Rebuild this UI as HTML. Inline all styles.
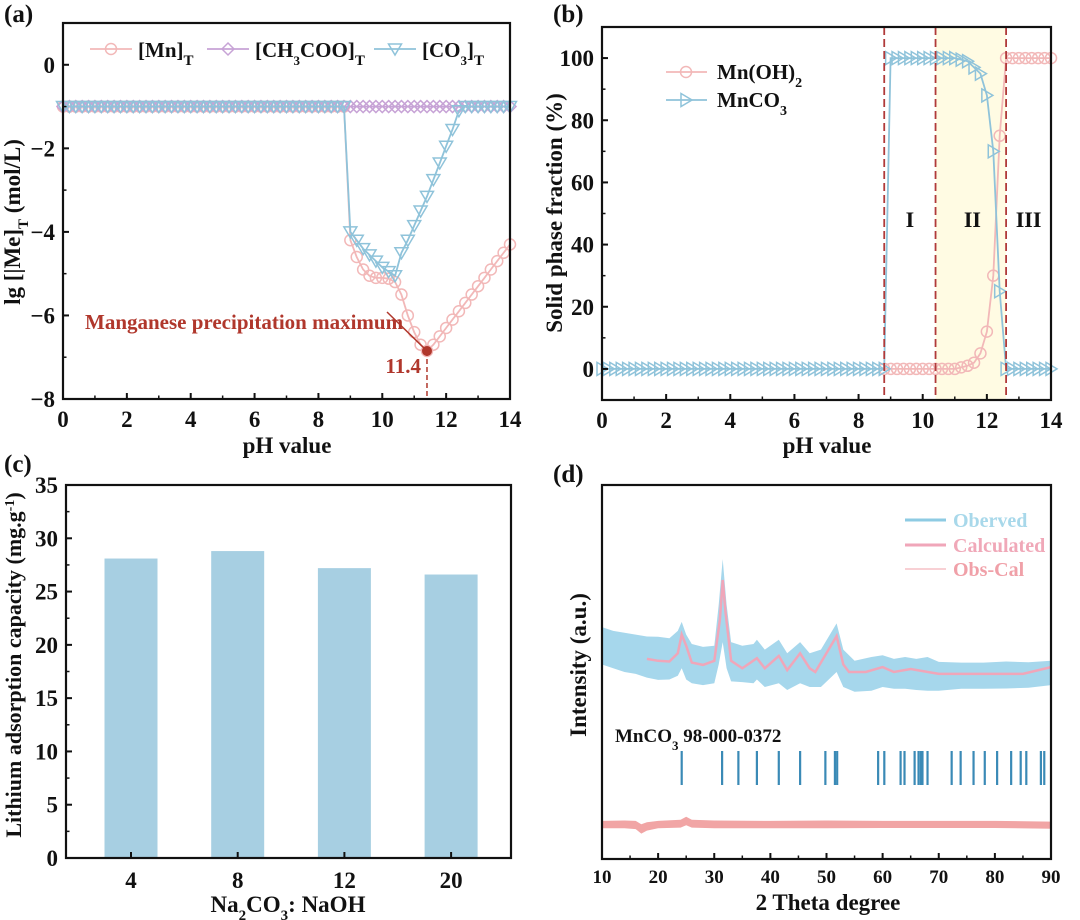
<!DOCTYPE html>
<html><head><meta charset="utf-8"><style>
html,body{margin:0;padding:0;background:#fff;}
svg{display:block;font-family:"Liberation Serif",serif;font-weight:bold;}
</style></head><body>
<svg id="fig" width="1080" height="920" viewBox="0 0 1080 920" xmlns="http://www.w3.org/2000/svg"></svg>
<script>
// ---------- Panel (a) data ----------
const phA = [0,0.2,0.4,0.6,0.8,1,1.2,1.4,1.6,1.8,2,2.2,2.4,2.6,2.8,3,3.2,3.4,3.6,3.8,4,4.2,4.4,4.6,4.8,5,5.2,5.4,5.6,5.8,6,6.2,6.4,6.6,6.8,7,7.2,7.4,7.6,7.8,8,8.2,8.4,8.6,8.8,9,9.2,9.4,9.6,9.8,10,10.2,10.4,10.6,10.8,11,11.2,11.4,11.6,11.8,12,12.2,12.4,12.6,12.8,13,13.2,13.4,13.6,13.8,14];
const mnA = [-1,-1,-1,-1,-1,-1,-1,-1,-1,-1,-1,-1,-1,-1,-1,-1,-1,-1,-1,-1,-1,-1,-1,-1,-1,-1,-1,-1,-1,-1,-1,-1,-1,-1,-1,-1,-1,-1,-1,-1,-1,-1,-1,-1,-1,-4.2,-4.6,-4.9,-5.05,-5.1,-5.1,-5.12,-5.2,-5.5,-6.0,-6.4,-6.7,-6.85,-6.7,-6.5,-6.3,-6.1,-5.9,-5.7,-5.5,-5.3,-5.1,-4.9,-4.7,-4.5,-4.3];
const acA = [-1,-1,-1,-1,-1,-1,-1,-1,-1,-1,-1,-1,-1,-1,-1,-1,-1,-1,-1,-1,-1,-1,-1,-1,-1,-1,-1,-1,-1,-1,-1,-1,-1,-1,-1,-1,-1,-1,-1,-1,-1,-1,-1,-1,-1,-1,-1,-1,-1,-1,-1,-1,-1,-1,-1,-1,-1,-1,-1,-1,-1,-1,-1,-1,-1,-1,-1,-1,-1,-1,-1];
const co3A = [-1,-1,-1,-1,-1,-1,-1,-1,-1,-1,-1,-1,-1,-1,-1,-1,-1,-1,-1,-1,-1,-1,-1,-1,-1,-1,-1,-1,-1,-1,-1,-1,-1,-1,-1,-1,-1,-1,-1,-1,-1,-1,-1,-1,-1,-4.0,-4.2,-4.4,-4.55,-4.7,-4.85,-4.95,-5.05,-4.5,-4.2,-3.85,-3.5,-3.15,-2.75,-2.35,-1.95,-1.55,-1.1,-1,-1,-1,-1,-1,-1,-1,-1];
const aXTicks = [0,2,4,6,8,10,12,14];
const aYTicks = [0,-2,-4,-6,-8];
const aMinPH = [11.4];
const aMinVal = [-6.85];
// ---------- Panel (b) data ----------
const mnOH2B = [0,0,0,0,0,0,0,0,0,0,0,0,0,0,0,0,0,0,0,0,0,0,0,0,0,0,0,0,0,0,0,0,0,0,0,0,0,0,0,0,0,0,0,0,0,0,0,0,0,0,0,0,0,0,0,0,0.5,1,2,5,12,30,75,100,100,100,100,100,100,100,100];
const mnCO3B = [0,0,0,0,0,0,0,0,0,0,0,0,0,0,0,0,0,0,0,0,0,0,0,0,0,0,0,0,0,0,0,0,0,0,0,0,0,0,0,0,0,0,0,0,0,100,100,100,100,100,100,100,100,100,100,100,99.5,99,97,95,88,70,25,0,0,0,0,0,0,0,0];
const bXTicks = [0,2,4,6,8,10,12,14];
const bYTicks = [0,20,40,60,80,100];
const bBounds = [8.8,10.4,12.6];
const bRegions = ["I","II","III"];
const bRegionPos = [9.6,11.55,13.3];
// ---------- Panel (c) data ----------
const cCats = ["4","8","12","20"];
const cVals = [28.1,28.8,27.2,26.6];
const cYTicks = [0,5,10,15,20,25,30,35];
// ---------- Panel (d) data ----------
const dObsX = [10,12,14,16,18,20,22,23.5,24.2,25,26,28,30,30.8,31.5,32.2,33,35,37,37.6,39,41.5,43,45.3,47,49,51.8,53,55,58,60,62,64,66,68,70,74,78,82,86,90];
const dObsHi = [62,61,60.5,60,59.5,59.4,59,61,63.4,60,57.5,56.7,57,68,80.2,68,58,57,57.5,58.6,56,58.6,55,58,55,56,63,56,53,54,54.5,53.5,54,53.5,54,52.7,52.5,52.5,52.8,52.6,53];
const dObsLo = [52,51,50,49.5,48.5,47.9,48,49,51,48,47,46.5,47,52,58,51,47.5,47.3,47,48,46,47,45.2,47,46,46,50,46,44.7,45,46,45.5,45.5,45.2,45,45,45.5,45.5,45.6,45.8,46.5];
const dCalX = [18,20,22,23.5,24.2,25,26,28,30,31,31.5,32,33,35,37.6,39,41.5,43,45.3,47,48,51.8,53,54,57,60,62,65,70,75,80,85,90];
const dCalY = [53.5,53,52.8,55,60,57,52.5,51.9,53,64,74.6,66,53,51,53.7,51,54.3,50.5,55,51,50,59.6,52,50,50,51.3,50,50.8,49.5,49.5,49.5,49.5,51.3];
const dDiffX = [10,14,16,17,18,20,24,25,26,30,40,50,60,70,80,90];
const dDiffHi = [10.2,10.3,10.2,9.3,9.8,10.2,10.5,11.3,10.5,10.3,10.2,10.3,10.2,10.2,10.2,10];
const dDiffLo = [8.2,8.2,8,6.8,7.6,8.2,8.4,9,8.4,8.2,8.2,8.2,8.3,8.3,8.3,8.1];
const dRefPeaks = [24.2,31.4,34.3,37.6,41.5,45.3,49.8,51.5,51.9,59.2,60.3,63.2,63.9,65.7,66.4,66.8,67.1,68.0,72.3,73.9,76.2,78.2,80.4,82.9,84.6,85.6,88.2,88.8];
const dXTicks = [10,20,30,40,50,60,70,80,90];

const NS = "http://www.w3.org/2000/svg";
const svg = document.getElementById("fig");
function mk(tag, attrs, parent){
  const e = document.createElementNS(NS, tag);
  for (const k in attrs) e.setAttribute(k, attrs[k]);
  (parent||svg).appendChild(e);
  return e;
}
function lin(d0,d1,r0,r1){ return v => r0 + (v-d0)/(d1-d0)*(r1-r0); }
function txt(s, x, y, size, anchor, parent, fill){
  const t = mk("text",{x:x,y:y,"font-size":size,"text-anchor":anchor||"middle",fill:fill||"#111"},parent);
  t.textContent = s; return t;
}
function frame(g,x0,y0,x1,y1){
  const r = mk("rect",{x:x0,y:y0,width:x1-x0,height:y1-y0,fill:"none",stroke:"#111","stroke-width":2.2},g);
  
  
}
function polyline(g, xs, ys, sx, sy, stroke, w){
  let d = xs.map((x,i)=>(i?"L":"M")+sx(x).toFixed(1)+","+sy(ys[i]).toFixed(1)).join("");
  return mk("path",{d:d,fill:"none",stroke:stroke,"stroke-width":w||1.5},g);
}
function band(g, xs, hi, lo, sx, sy, fill){
  let d = xs.map((x,i)=>(i?"L":"M")+sx(x).toFixed(1)+","+sy(hi[i]).toFixed(1)).join("");
  for (let i=xs.length-1;i>=0;i--) d += "L"+sx(xs[i]).toFixed(1)+","+sy(lo[i]).toFixed(1);
  return mk("path",{d:d+"Z",fill:fill,stroke:"none"},g);
}
function marker(g,type,x,y,color){
  let e;
  if (type==="circle") e = mk("circle",{cx:x,cy:y,r:5.5,fill:"none",stroke:color,"stroke-width":1.5},g);
  else if (type==="diamond") e = mk("path",{d:`M${x},${y-6}L${x+6},${y}L${x},${y+6}L${x-6},${y}Z`,fill:"none",stroke:color,"stroke-width":1.5},g);
  else if (type==="tridown") e = mk("path",{d:`M${x-6.5},${y-5}L${x+6.5},${y-5}L${x},${y+6}Z`,fill:"none",stroke:color,"stroke-width":1.5},g);
  else e = mk("path",{d:`M${x-5},${y-6.5}L${x+6},${y}L${x-5},${y+6.5}Z`,fill:"none",stroke:color,"stroke-width":1.5},g);
  return e;
}
function xTicks(g, ticks, sx, yb, minorStep, lo, hi, labSize){
  ticks.forEach(v=>{
    mk("line",{x1:sx(v),x2:sx(v),y1:yb,y2:yb-6,stroke:"#111","stroke-width":2},g);
    const t = txt(String(v), sx(v), yb+(labSize?24:28), labSize||23, "middle", g);
    
    
  });
  if (minorStep) for (let v=lo; v<=hi+1e-9; v+=minorStep) mk("line",{x1:sx(v),x2:sx(v),y1:yb,y2:yb-3.5,stroke:"#111","stroke-width":1.5},g);
}
function yTicks(g, ticks, sy, xl, minorStep, lo, hi, fmt){
  ticks.forEach(v=>{
    mk("line",{x1:xl,x2:xl+6,y1:sy(v),y2:sy(v),stroke:"#111","stroke-width":2},g);
    const t = txt(fmt?fmt(v):String(v), xl-8, sy(v)+8, 23, "end", g);
    
    
  });
  if (minorStep) for (let v=lo; v<=hi+1e-9; v+=minorStep) mk("line",{x1:xl,x2:xl+3.5,y1:sy(v),y2:sy(v),stroke:"#111","stroke-width":1.5},g);
}
const minus = v => v<0 ? "\u2212"+Math.abs(v) : String(v);

// ================= Panel A =================
(function(){
  const g = mk("g",{});
  
  
  const X0=63,X1=510,Y0=23,Y1=399;
  const sx = lin(0,14,X0,X1), sy = lin(1,-8,Y0,Y1);
  const lab = txt("(a)", 4, 22, 25, "start", g);  
  const pink="#f2b8b8", lav="#c7a3d6", blue="#8fc3da";
  const s1 = mk("g",{},g);  
  polyline(s1, phA, mnA, sx, sy, pink, 1.8);
  phA.forEach((p,i)=>marker(s1,"circle",sx(p),sy(mnA[i]),pink));
  const s2 = mk("g",{},g);  
  polyline(s2, phA, acA, sx, sy, lav, 1.8);
  phA.forEach((p,i)=>marker(s2,"diamond",sx(p),sy(acA[i]),lav));
  const s3 = mk("g",{},g);  
  polyline(s3, phA, co3A, sx, sy, blue, 1.8);
  phA.forEach((p,i)=>marker(s3,"tridown",sx(p),sy(co3A[i]),blue));
  const red="#b0372c";
  const ann = mk("g",{},g);  
  const mx = sx(aMinPH[0]), my = sy(aMinVal[0]);
  mk("line",{x1:mx,x2:mx,y1:my,y2:Y1,stroke:red,"stroke-width":1.5,"stroke-dasharray":"5,3"},ann);
  mk("line",{x1:387,y1:312,x2:mx,y2:my,stroke:red,"stroke-width":1.5},ann);
  mk("circle",{cx:mx,cy:my,r:5,fill:red},ann);
  txt("Manganese precipitation maximum", 85, 329, 21, "start", ann, red);
  txt(String(aMinPH[0]), mx-6, 373, 21, "end", ann, red);
  frame(g,X0,Y0,X1,Y1);
  xTicks(g, aXTicks, sx, Y1, 1, 0, 14);
  yTicks(g, aYTicks, sy, X0, 1, -8, 1, minus);
  const xt = txt("pH value", 287, 453, 23, "middle", g);  
  const yt = mk("text",{x:0,y:0,"font-size":23,"text-anchor":"middle",fill:"#111",transform:"translate(20,222) rotate(-90)"},g);
  yt.innerHTML = 'lg [|Me]<tspan baseline-shift="sub" font-size="15">T</tspan> (mol/L)';
   
  const lg = mk("g",{},g);  
  const items = [[90,"circle",pink,'[Mn]<tspan baseline-shift="sub" font-size="15">T</tspan>'],[207,"diamond",lav,'[CH<tspan baseline-shift="sub" font-size="13">3</tspan>COO]<tspan baseline-shift="sub" font-size="15">T</tspan>'],[374,"tridown",blue,'[CO<tspan baseline-shift="sub" font-size="13">3</tspan>]<tspan baseline-shift="sub" font-size="15">T</tspan>']];
  items.forEach(it=>{
    const e = mk("g",{},lg);  
    mk("line",{x1:it[0],x2:it[0]+42,y1:49,y2:49,stroke:it[2],"stroke-width":1.8},e);
    marker(e,it[1],it[0]+21,49,it[2]);
    const t = mk("text",{x:it[0]+48,y:57,"font-size":21,"text-anchor":"start",fill:"#111"},e);
    t.innerHTML = it[3];
  });
})();

// ================= Panel B =================
(function(){
  const g = mk("g",{});
  
  
  const X0=602,X1=1051,Y0=27,Y1=400;
  const sx = lin(0,14,X0,X1), sy = lin(110,-10,Y0,Y1);
  const lab = txt("(b)", 553, 22, 25, "start", g);  
  const shade = mk("rect",{x:sx(bBounds[1]),y:Y0,width:sx(bBounds[2])-sx(bBounds[1]),height:Y1-Y0,fill:"#fffbe3"},g);
   
  const pink="#f2b8b8", blue="#8fc3da";
  const s1 = mk("g",{},g);  
  const s1x = phA.filter((p,i)=>p>=8.8), s1y = mnOH2B.filter((v,i)=>phA[i]>=8.8);
  polyline(s1, s1x, s1y, sx, sy, pink, 1.8);
  s1x.forEach((p,i)=>marker(s1,"circle",sx(p),sy(s1y[i]),pink));
  const s2 = mk("g",{},g);  
  polyline(s2, phA, mnCO3B, sx, sy, blue, 1.8);
  phA.forEach((p,i)=>marker(s2,"triright",sx(p),sy(mnCO3B[i]),blue));
  bBounds.forEach(b=>{
    const l = mk("line",{x1:sx(b),x2:sx(b),y1:Y0,y2:Y1,stroke:"#b03a3a","stroke-width":1.8,"stroke-dasharray":"8,4"},g);
     
  });
  bRegions.forEach((r,i)=>{
    const t = txt(r, sx(bRegionPos[i]), 227, 22, "middle", g);
     
  });
  frame(g,X0,Y0,X1,Y1);
  xTicks(g, bXTicks, sx, Y1, 1, 0, 14);
  yTicks(g, bYTicks, sy, X0, 10, -10, 110);
  const xt = txt("pH value", 827, 453, 23, "middle", g);  
  const yt = txt("Solid phase fraction (%)", 0, 0, 23, "middle", g);
  yt.setAttribute("transform","translate(562,213) rotate(-90)");
   
  const lg = mk("g",{},g);  
  [[72,"circle",pink,'Mn(OH)<tspan baseline-shift="sub" font-size="14">2</tspan>'],[100,"triright",blue,'MnCO<tspan baseline-shift="sub" font-size="14">3</tspan>']].forEach(it=>{
    const e = mk("g",{},lg);  
    mk("line",{x1:666,x2:707,y1:it[0],y2:it[0],stroke:it[2],"stroke-width":1.8},e);
    marker(e,it[1],686,it[0],it[2]);
    const t = mk("text",{x:717,y:it[0]+7,"font-size":21,"text-anchor":"start",fill:"#111"},e);
    t.innerHTML = it[3];
  });
})();

// ================= Panel C =================
(function(){
  const g = mk("g",{});
  
  
  const X0=66,X1=511,Y0=485,Y1=858;
  const sy = lin(0,35,Y1,Y0);
  const sx = i => X0 + 65 + i*106.7;
  const lab = txt("(c)", 4, 472, 25, "start", g);  
  cVals.forEach((v,i)=>{
    const b = mk("rect",{x:sx(i)-26.5,y:sy(v),width:53,height:sy(0)-sy(v),fill:"#a7cfe2"},g);
    
    
  });
  frame(g,X0,Y0,X1,Y1);
  cCats.forEach((c,i)=>{
    mk("line",{x1:sx(i),x2:sx(i),y1:Y1,y2:Y1-6,stroke:"#111","stroke-width":2},g);
    const t = txt(c, sx(i), Y1+30, 23, "middle", g);
     
  });
  yTicks(g, cYTicks, sy, X0, 2.5, 0, 35);
  const xt = mk("text",{x:288,y:912,"font-size":23,"text-anchor":"middle",fill:"#111"},g);
  xt.innerHTML = 'Na<tspan baseline-shift="sub" font-size="15">2</tspan>CO<tspan baseline-shift="sub" font-size="15">3</tspan>:  NaOH';
   
  const yt = mk("text",{x:0,y:0,"font-size":22,"text-anchor":"middle",fill:"#111",transform:"translate(21,665) rotate(-90)"},g);
  yt.innerHTML = 'Lithium adsorption capacity (mg.g<tspan baseline-shift="super" font-size="14">-1</tspan>)';
   
})();

// ================= Panel D =================
(function(){
  const g = mk("g",{});
  
  
  const X0=602,X1=1051,Y0=485,Y1=859;
  const sx = lin(10,90,X0,X1), sy = lin(0,100,Y1,Y0);
  const lab = txt("(d)", 553, 482, 25, "start", g);  
  const ob = band(g, dObsX, dObsHi, dObsLo, sx, sy, "#a6d7ec");
   
  const cl = polyline(g, dCalX, dCalY, sx, sy, "#f0a6b9", 2.5);
   
  const df = band(g, dDiffX, dDiffHi, dDiffLo, sx, sy, "#f1a5a5");
   
  const rg = mk("g",{},g);  
  dRefPeaks.forEach(p=>mk("line",{x1:sx(p),x2:sx(p),y1:751,y2:785,stroke:"#3a8ab6","stroke-width":2.2},rg));
  const rt = mk("text",{x:615,y:742,"font-size":19,"text-anchor":"start",fill:"#111"},g);
  rt.innerHTML = 'MnCO<tspan baseline-shift="sub" font-size="13">3</tspan> 98-000-0372';
   
  frame(g,X0,Y0,X1,Y1);
  xTicks(g, dXTicks, sx, Y1, 5, 10, 90, 19);
  const xt = txt("2 Theta degree", 828, 910, 23, "middle", g);  
  const yt = txt("Intensity (a.u.)", 0, 0, 23, "middle", g);
  yt.setAttribute("transform","translate(586,665) rotate(-90)");
   
  const lg = mk("g",{},g);  
  [[520,"#8ecbe3","#a8d8ea",3,"Oberved"],[545,"#f0a6b9","#f0a8b8",3,"Calculated"],[569,"#f0a0a8","#f0a0a8",1,"Obs-Cal"]].forEach(it=>{
    const e = mk("g",{},lg);  
    mk("line",{x1:905,x2:946,y1:it[0],y2:it[0],stroke:it[1],"stroke-width":it[3]},e);
    txt(it[4], 953, it[0]+7, 20, "start", e, it[2]);
  });
})();
</script>
</body></html>
